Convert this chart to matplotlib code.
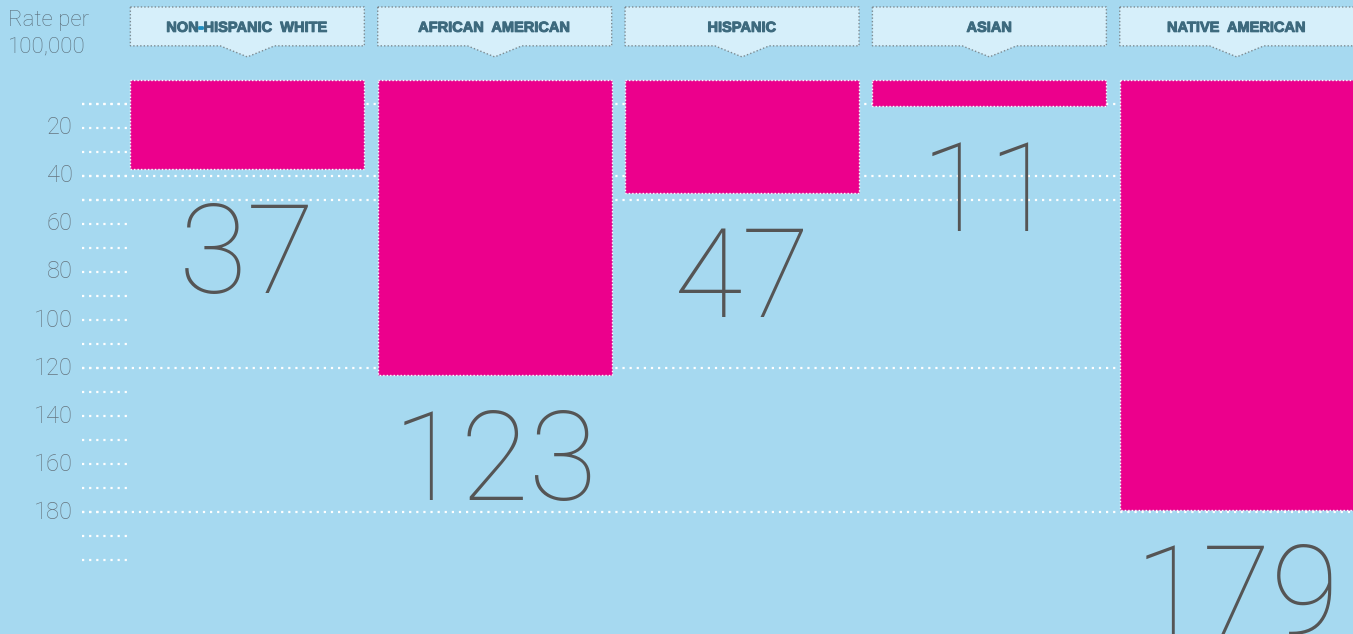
import matplotlib
matplotlib.use("Agg")
import matplotlib.pyplot as plt
import matplotlib.patheffects as pe
from matplotlib.patches import Polygon

groups = ["NON-HISPANIC WHITE", "AFRICAN AMERICAN", "HISPANIC", "ASIAN", "NATIVE AMERICAN"]
rates = [37, 123, 47, 11, 179]
tick_labels = [20, 40, 60, 80, 100, 120, 140, 160, 180]
short_ticks = list(range(10, 210, 10))
long_lines = [10, 40, 50, 120, 180]

bg = "#a6d9f0"
magenta = "#ec008c"
num_color = "#555555"
axis_color = "#66757f"
head_color = "#3d6a7e"

fig = plt.figure(figsize=(13.53, 6.34), dpi=100)
fig.patch.set_facecolor(bg)
ax = fig.add_axes([0, 0, 1, 1])
ax.set_facecolor(bg)
ax.set_xlim(-1.0, 4.47)
ax.set_ylim(230.8, -33.3)
ax.axis("off")

x = list(range(len(groups)))
w = 0.946

# dotted guide lines
for v in short_ticks:
    ax.plot([-0.67, -0.475], [v, v], color="white", lw=1.6,
            linestyle=(0, (1, 2.2)), zorder=1)
for v in long_lines:
    ax.plot([-0.67, 4.47], [v, v], color="white", lw=1.6,
            linestyle=(0, (1, 2.2)), zorder=1)

for v in tick_labels:
    ax.text(-0.705, v, str(v), ha="right", va="center", fontsize=17,
            color=axis_color, family="Roboto", fontweight="light")

ax.text(-0.967, -33.3 + 4, "Rate per\n100,000", ha="left", va="top", fontsize=16,
        color="#5b6f7b", family="Roboto", fontweight="light", linespacing=1.35)

ax.bar(x, rates, width=w, color=magenta, edgecolor="white", linewidth=1.0,
       linestyle=(0, (1, 1.5)), zorder=2)

for xi, r in zip(x, rates):
    ax.text(xi, r + 13, str(r), ha="center", va="top", fontsize=90,
            color=num_color, family="Roboto", fontweight="light", zorder=3)

# header boxes with a pointer
top, bottom, tip, half = -30.4, -14.2, -9.6, 0.11
ymid = (top + bottom) / 2 + 0.6
thick = [pe.withStroke(linewidth=0.7, foreground=head_color)]
for xi, g in zip(x, groups):
    l, r = xi - w / 2, xi + w / 2
    pts = [(l, top), (r, top), (r, bottom), (xi + half, bottom), (xi, tip),
           (xi - half, bottom), (l, bottom)]
    ax.add_patch(Polygon(pts, closed=True, facecolor="#d6effa", edgecolor="#7d8b92",
                         linewidth=1.0, linestyle=(0, (1, 1.5)), zorder=2))
    label = g.replace(" ", "  ")
    ax.text(xi, ymid, label, ha="center", va="center", fontsize=10.5,
            fontweight="bold", color=head_color, family="Liberation Sans", zorder=3,
            path_effects=thick)

# blue hyphen in the first header
fig.canvas.draw()
renderer = fig.canvas.get_renderer()
first = [t for t in ax.texts if t.get_text().startswith("NON")][0]
bb = first.get_window_extent(renderer)
pre = ax.text(0, 0, "NON", fontsize=10.5, fontweight="bold", family="Liberation Sans")
pw = pre.get_window_extent(renderer).width
pre.remove()
inv = ax.transData.inverted()
hx = inv.transform((bb.x0 + pw, 0))[0]
ax.text(hx, ymid, "-", ha="left", va="center", fontsize=10.5,
        fontweight="bold", color="#1b8fc4", family="Liberation Sans", zorder=4,
        path_effects=[pe.withStroke(linewidth=1.2, foreground="#1b8fc4")])

fig.savefig("out.png", dpi=100, facecolor=bg)
